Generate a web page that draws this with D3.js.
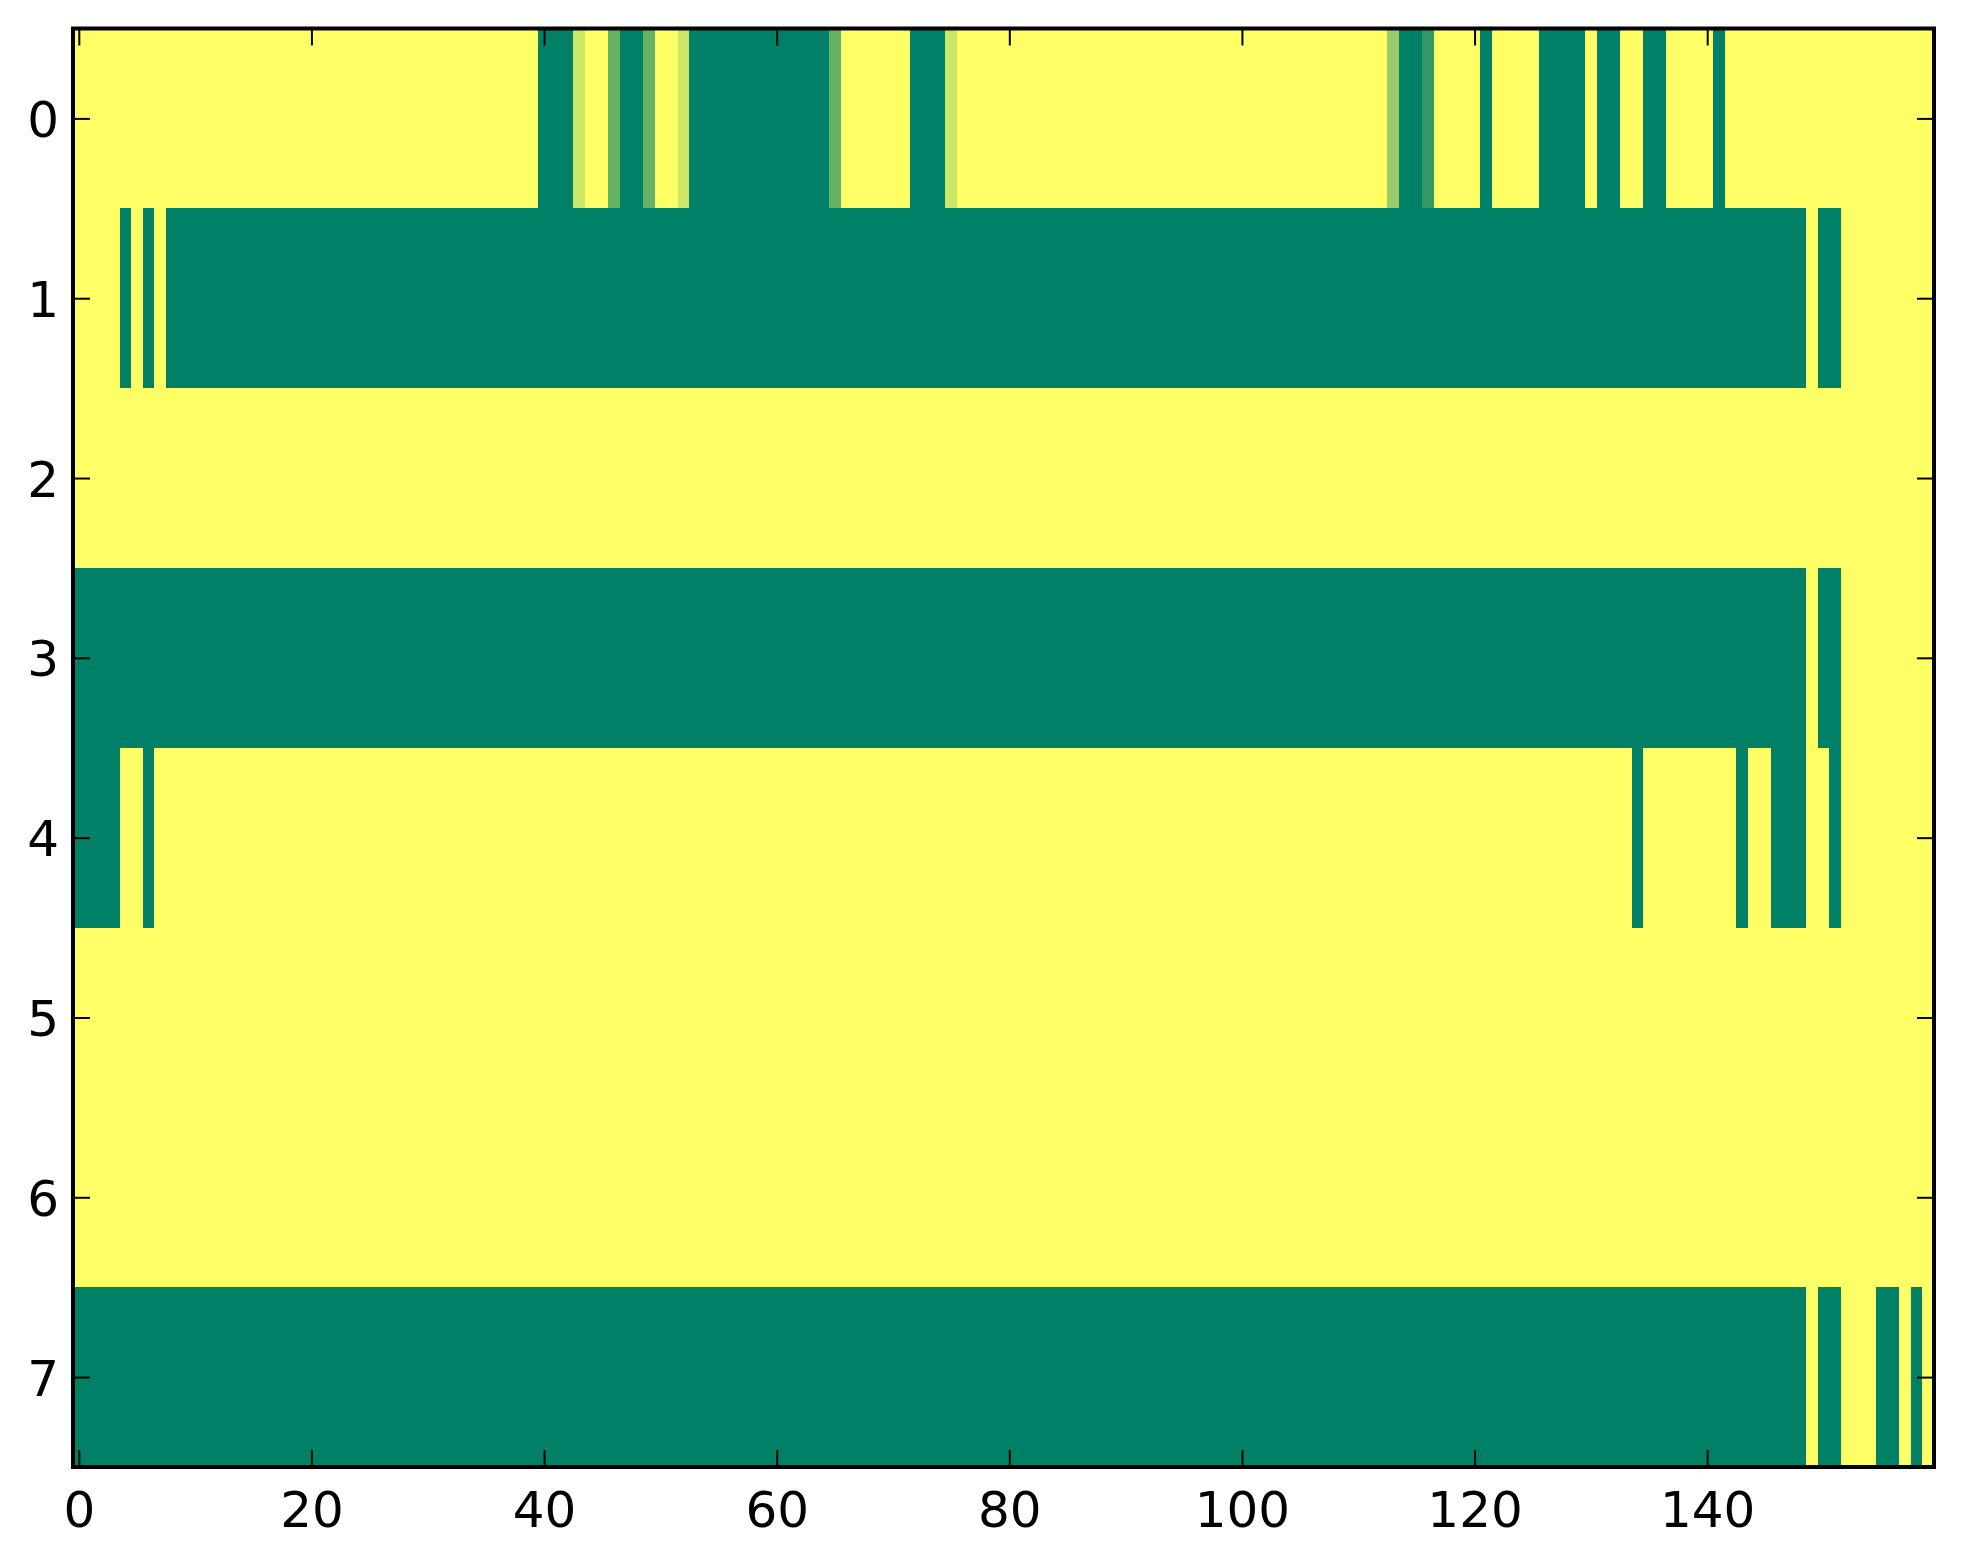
<!DOCTYPE html>
<html>
<head>
<meta charset="utf-8">
<script src="https://cdn.jsdelivr.net/npm/d3@7/dist/d3.min.js"></script>
<style>
  body { margin: 0; background: #fff; }
  svg { display: block; }
  .axis text { font-family: "DejaVu Sans", sans-serif; font-size: 50px; fill: #000; }
  .axis line { stroke: #000; stroke-width: 2px; }
  .axis path { display: none; }
</style>
</head>
<body>
<div id="chart"></div>
<script>
// values of the 8 x 160 grid, 0 = dark green, 1 = yellow
const row0 = [
  1,1,1,1,1,1,1,1,1,1,1,1,1,1,1,1,1,1,1,1,
  1,1,1,1,1,1,1,1,1,1,1,1,1,1,1,1,1,1,1,1,
  0,0,0,0.8,1,1,0.4,0,0,0.4,1,1,0.8,0,0,0,0,0,0,0,
  0,0,0,0,0,0.4,1,1,1,1,1,1,0,0,0,0.8,1,1,1,1,
  1,1,1,1,1,1,1,1,1,1,1,1,1,1,1,1,1,1,1,1,
  1,1,1,1,1,1,1,1,1,1,1,1,1,0.6,0,0,0.2,1,1,1,
  1,0,1,1,1,1,0,0,0,0,1,0,0,1,1,0,0,1,1,1,
  1,0,1,1,1,1,1,1,1,1,1,1,1,1,1,1,1,1,1,1
];
const row1 = [
  1,1,1,1,0,1,0,1,0,0,0,0,0,0,0,0,0,0,0,0,
  0,0,0,0,0,0,0,0,0,0,0,0,0,0,0,0,0,0,0,0,
  0,0,0,0,0,0,0,0,0,0,0,0,0,0,0,0,0,0,0,0,
  0,0,0,0,0,0,0,0,0,0,0,0,0,0,0,0,0,0,0,0,
  0,0,0,0,0,0,0,0,0,0,0,0,0,0,0,0,0,0,0,0,
  0,0,0,0,0,0,0,0,0,0,0,0,0,0,0,0,0,0,0,0,
  0,0,0,0,0,0,0,0,0,0,0,0,0,0,0,0,0,0,0,0,
  0,0,0,0,0,0,0,0,0,1,0,0,1,1,1,1,1,1,1,1
];
const row2 = [
  1,1,1,1,1,1,1,1,1,1,1,1,1,1,1,1,1,1,1,1,
  1,1,1,1,1,1,1,1,1,1,1,1,1,1,1,1,1,1,1,1,
  1,1,1,1,1,1,1,1,1,1,1,1,1,1,1,1,1,1,1,1,
  1,1,1,1,1,1,1,1,1,1,1,1,1,1,1,1,1,1,1,1,
  1,1,1,1,1,1,1,1,1,1,1,1,1,1,1,1,1,1,1,1,
  1,1,1,1,1,1,1,1,1,1,1,1,1,1,1,1,1,1,1,1,
  1,1,1,1,1,1,1,1,1,1,1,1,1,1,1,1,1,1,1,1,
  1,1,1,1,1,1,1,1,1,1,1,1,1,1,1,1,1,1,1,1
];
const row3 = [
  0,0,0,0,0,0,0,0,0,0,0,0,0,0,0,0,0,0,0,0,
  0,0,0,0,0,0,0,0,0,0,0,0,0,0,0,0,0,0,0,0,
  0,0,0,0,0,0,0,0,0,0,0,0,0,0,0,0,0,0,0,0,
  0,0,0,0,0,0,0,0,0,0,0,0,0,0,0,0,0,0,0,0,
  0,0,0,0,0,0,0,0,0,0,0,0,0,0,0,0,0,0,0,0,
  0,0,0,0,0,0,0,0,0,0,0,0,0,0,0,0,0,0,0,0,
  0,0,0,0,0,0,0,0,0,0,0,0,0,0,0,0,0,0,0,0,
  0,0,0,0,0,0,0,0,0,1,0,0,1,1,1,1,1,1,1,1
];
const row4 = [
  0,0,0,0,1,1,0,1,1,1,1,1,1,1,1,1,1,1,1,1,
  1,1,1,1,1,1,1,1,1,1,1,1,1,1,1,1,1,1,1,1,
  1,1,1,1,1,1,1,1,1,1,1,1,1,1,1,1,1,1,1,1,
  1,1,1,1,1,1,1,1,1,1,1,1,1,1,1,1,1,1,1,1,
  1,1,1,1,1,1,1,1,1,1,1,1,1,1,1,1,1,1,1,1,
  1,1,1,1,1,1,1,1,1,1,1,1,1,1,1,1,1,1,1,1,
  1,1,1,1,1,1,1,1,1,1,1,1,1,1,0,1,1,1,1,1,
  1,1,1,0,1,1,0,0,0,1,1,0,1,1,1,1,1,1,1,1
];
const row5 = row2.slice();
const row6 = row2.slice();
const row7 = [
  0,0,0,0,0,0,0,0,0,0,0,0,0,0,0,0,0,0,0,0,
  0,0,0,0,0,0,0,0,0,0,0,0,0,0,0,0,0,0,0,0,
  0,0,0,0,0,0,0,0,0,0,0,0,0,0,0,0,0,0,0,0,
  0,0,0,0,0,0,0,0,0,0,0,0,0,0,0,0,0,0,0,0,
  0,0,0,0,0,0,0,0,0,0,0,0,0,0,0,0,0,0,0,0,
  0,0,0,0,0,0,0,0,0,0,0,0,0,0,0,0,0,0,0,0,
  0,0,0,0,0,0,0,0,0,0,0,0,0,0,0,0,0,0,0,0,
  0,0,0,0,0,0,0,0,0,1,0,0,1,1,1,0,0,1,0,1
];
const rows = [row0, row1, row2, row3, row4, row5, row6, row7];

const xTicks = [0, 20, 40, 60, 80, 100, 120, 140];
const yTicks = [0, 1, 2, 3, 4, 5, 6, 7];

const width = 1963, height = 1564;
const box = {left: 73, right: 1934, top: 28.5, bottom: 1467};
const tickLen = 17;

const svg = d3.select('#chart').append('svg')
    .attr('width', width)
    .attr('height', height);

const nCols = rows[0].length;
const x = d3.scaleLinear().domain([-0.5, nCols - 0.5]).range([box.left, box.right]);
const y = d3.scaleLinear().domain([-0.5, rows.length - 0.5]).range([box.top, box.bottom]);

// matplotlib "summer" colormap
const color = d3.scaleLinear().domain([0, 1]).range(['#008066', '#ffff66']);

const cells = [];
rows.forEach(function(r, j){
    r.forEach(function(v, i){
        cells.push({row: j, col: i, v: v});
    });
});

svg.append('g')
    .selectAll('rect')
    .data(cells)
    .enter()
    .append('rect')
    .attr('x', d => x(d.col - 0.5))
    .attr('y', d => y(d.row - 0.5))
    .attr('width', d => x(d.col + 0.5) - x(d.col - 0.5) + 0.5)
    .attr('height', d => y(d.row + 0.5) - y(d.row - 0.5) + 0.5)
    .attr('fill', d => color(d.v))
    .attr('shape-rendering', 'crispEdges');

// ticks pointing inward on all four sides
svg.append('g')
    .attr('class', 'axis')
    .attr('transform', 'translate(0,' + box.bottom + ')')
    .call(d3.axisBottom(x).tickValues(xTicks).tickSizeInner(-tickLen).tickSizeOuter(0).tickPadding(24));
svg.append('g')
    .attr('class', 'axis')
    .attr('transform', 'translate(0,' + box.top + ')')
    .call(d3.axisTop(x).tickValues(xTicks).tickSizeInner(-tickLen).tickSizeOuter(0).tickFormat(''));
const yAxis = svg.append('g')
    .attr('class', 'axis')
    .attr('transform', 'translate(' + box.left + ',0)')
    .call(d3.axisLeft(y).tickValues(yTicks).tickSizeInner(-tickLen).tickSizeOuter(0).tickPadding(14));
yAxis.selectAll('text').attr('dy', '0.36em');
svg.append('g')
    .attr('class', 'axis')
    .attr('transform', 'translate(' + box.right + ',0)')
    .call(d3.axisRight(y).tickValues(yTicks).tickSizeInner(-tickLen).tickSizeOuter(0).tickFormat(''));

svg.append('rect')
    .attr('x', box.left)
    .attr('y', box.top)
    .attr('width', box.right - box.left)
    .attr('height', box.bottom - box.top)
    .attr('fill', 'none')
    .attr('stroke', '#000')
    .attr('stroke-width', 4);
</script>
</body>
</html>
